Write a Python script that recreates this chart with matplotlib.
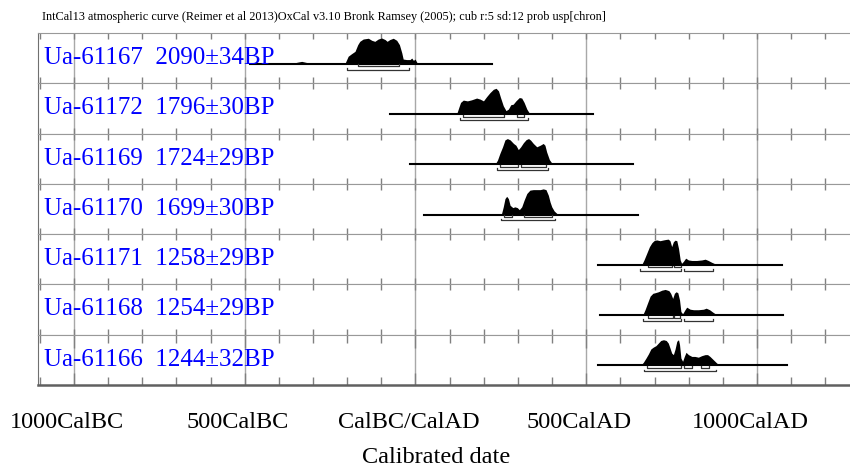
import matplotlib.pyplot as plt
from matplotlib.ticker import MultipleLocator
from matplotlib.transforms import ScaledTranslation

plt.rcParams['font.family'] = ['Liberation Serif', 'DejaVu Serif']

# sample labels (top to bottom)
labels = ["Ua-61167  2090±34BP", "Ua-61172  1796±30BP", "Ua-61169  1724±29BP",
          "Ua-61170  1699±30BP", "Ua-61171  1258±29BP", "Ua-61168  1254±29BP",
          "Ua-61166  1244±32BP"]

# extent of the horizontal line under each distribution (cal years, BC negative)
line_start = [-485, -75, -16, 25, 535, 540, 535]
line_end = [224, 521, 638, 650, 1073, 1077, 1087]

# calibrated probability (relative to peak)
yr_61167 = [-365, -345, -333, -320, -300, -206, -197, -187, -177, -169, -163, -153, -138, -128,
            -119, -109, -99, -89, -83, -75, -65, -55, -47, -40, -36, -26, -16, -11, -6, -1, 4, 23]
p_61167 = [0, .06, .09, .05, .01, .02, .29, .39, .48, .74, .87, .96, .99, .91,
           .87, .96, 1.0, .94, .87, .94, .99, .91, .74, .42, .18, .16, .16, .22, .13, .18, .05, 0]

yr_61172 = [60, 100, 121, 127, 132, 140, 152, 164, 179, 189, 199, 208, 218, 228, 236,
            243, 249, 257, 265, 272, 279, 286, 294, 304, 311, 318, 326, 333, 345, 380]
p_61172 = [0, .01, .02, .26, .45, .54, .51, .55, .62, .58, .51, .67, .83, .96, 1.0,
           .9, .64, .32, .13, .19, .36, .38, .51, .64, .62, .45, .19, .04, .01, 0]

yr_61169 = [233, 240, 247, 255, 262, 269, 277, 287, 294, 301, 308, 316, 324, 331,
            337, 345, 355, 365, 374, 379, 384, 392, 399, 414]
p_61169 = [0, .16, .42, .68, .95, 1.0, .95, .81, .74, .57, .68, .84, .96, 1.0,
           .94, .81, .68, .74, .81, .74, .48, .18, .05, 0]

yr_61170 = [240, 252, 257, 262, 267, 272, 277, 285, 291, 298, 304, 311, 318, 326,
            335, 345, 355, 365, 374, 382, 389, 394, 399, 406, 414, 423]
p_61170 = [0, .04, .30, .62, .71, .62, .36, .27, .30, .27, .19, .30, .56, .82,
           .95, .97, .97, .97, 1.0, .97, .75, .49, .30, .14, .04, 0]

yr_61171 = [662, 669, 677, 685, 692, 698, 706, 716, 726, 734, 740, 745, 750, 755, 760,
            765, 770, 775, 779, 784, 791, 799, 809, 823, 838, 848, 857, 867, 877, 887]
p_61171 = [0, .19, .45, .71, .86, .94, .97, .94, .97, .99, 1.0, .94, .71, .90, .96,
           .94, .64, .19, .06, .13, .26, .19, .17, .17, .19, .22, .17, .10, .04, 0]

yr_61168 = [665, 672, 679, 687, 695, 701, 711, 721, 731, 738, 742, 747, 753, 758, 763,
            768, 773, 777, 782, 789, 794, 804, 814, 828, 843, 851, 861, 870, 880, 892]
p_61168 = [0, .21, .46, .74, .85, .87, .91, .97, 1.0, .97, .95, .85, .65, .85, .91,
           .87, .59, .14, .05, .21, .31, .23, .21, .21, .23, .27, .21, .12, .03, 0]

yr_61166 = [659, 667, 675, 682, 689, 696, 704, 711, 718, 726, 734, 740, 745, 750, 755, 760, 765,
            770, 773, 777, 782, 787, 792, 799, 809, 818, 828, 838, 848, 855, 862, 872, 882, 892]
p_61166 = [0, .12, .29, .45, .64, .71, .77, .87, .97, 1.0, .97, .87, .68, .48, .42, .64, .94,
           1.0, .81, .29, .16, .35, .51, .42, .35, .35, .32, .38, .42, .42, .35, .22, .09, 0]

# 68.2% and 95.4% ranges
r68 = [[(-169, -48)], [(140, 260), (298, 319)], [(247, 301), (309, 381)],
       [(260, 282), (319, 399)], [(682, 750), (758, 776)], [(682, 755), (758, 775)],
       [(679, 777), (787, 809), (836, 860)]]
r95 = [[(-200, -19)], [(130, 330)], [(240, 389)], [(249, 408)],
       [(657, 777), (787, 870)], [(667, 777), (787, 870)], [(669, 879)]]

tick_years = [-1000, -500, 0, 500, 1000]
tick_text = ["1000CalBC", "500CalBC", "CalBC/CalAD", "500CalAD", "1000CalAD"]

years = [yr_61167, yr_61172, yr_61169, yr_61170, yr_61171, yr_61168, yr_61166]
probs = [p_61167, p_61172, p_61169, p_61170, p_61171, p_61168, p_61166]

fig = plt.figure(figsize=(8.5, 4.72), dpi=100)
axes = fig.subplots(7, 1, sharex=True,
                    gridspec_kw=dict(hspace=0, left=0.0447, right=1.0, bottom=0.1843, top=0.9301))

for i, ax in enumerate(axes):
    ax.set_xlim(-1105, 1272)
    ax.set_ylim(-0.763, 1.195)
    ax.set_yticks([])
    ax.spines['right'].set_visible(False)
    ax.spines['left'].set_color('#707070')
    ax.spines['top'].set_color('#999999')
    ax.spines['bottom'].set_color('#999999')
    ax.xaxis.set_major_locator(MultipleLocator(500))
    ax.xaxis.set_minor_locator(MultipleLocator(100))
    ax.tick_params(axis='x', which='both', direction='in', top=True, bottom=True,
                   length=4, width=1, color='#808080', labelbottom=False)
    ax.grid(axis='x', which='major', color='#a8a8a8', lw=1, zorder=0)

    # distribution
    ax.fill_between(years[i], 0, probs[i], color='black', lw=0, zorder=2)
    ax.plot([line_start[i], line_end[i]], [0, 0], color='black', lw=1.5, zorder=3)
    for a, b in r68[i]:
        ax.plot([a, a, b, b], [-0.03, -0.1, -0.1, -0.03], color='#333333', lw=0.9, zorder=3)
    for a, b in r95[i]:
        ax.plot([a, a, b, b], [-0.16, -0.23, -0.23, -0.16], color='#333333', lw=0.9, zorder=3)

    ax.text(0.0074, 0.384, labels[i], transform=ax.transAxes, color='#0000ff',
            fontsize=18, va='baseline', ha='left', zorder=4)

axes[0].tick_params(axis='x', which='both', top=True, length=6)
axes[0].tick_params(axis='x', which='both', bottom=True, length=4)

bot = axes[-1]
bot.spines['bottom'].set_color('#606060')
bot.spines['bottom'].set_linewidth(1.8)
bot.set_xticks(tick_years, tick_text)
bot.tick_params(axis='x', which='major', bottom=True, length=9, labelbottom=True,
                labelsize=17.5, pad=19.5)
bot.tick_params(axis='x', which='minor', bottom=True, length=6)
for lab in bot.get_xticklabels():
    lab.set_transform(lab.get_transform() + ScaledTranslation(-7 / 100, 0, fig.dpi_scale_trans))
bot.set_xlabel("Calibrated date", fontsize=17.5)
bot.xaxis.set_label_coords(0.49, -1.23)

fig.text(42 / 850, 1 - 20 / 472,
         "IntCal13 atmospheric curve (Reimer et al 2013)OxCal v3.10 Bronk Ramsey (2005); "
         "cub r:5 sd:12 prob usp[chron]", fontsize=8.85, va='baseline', ha='left')

fig.savefig("out.png", dpi=100)
